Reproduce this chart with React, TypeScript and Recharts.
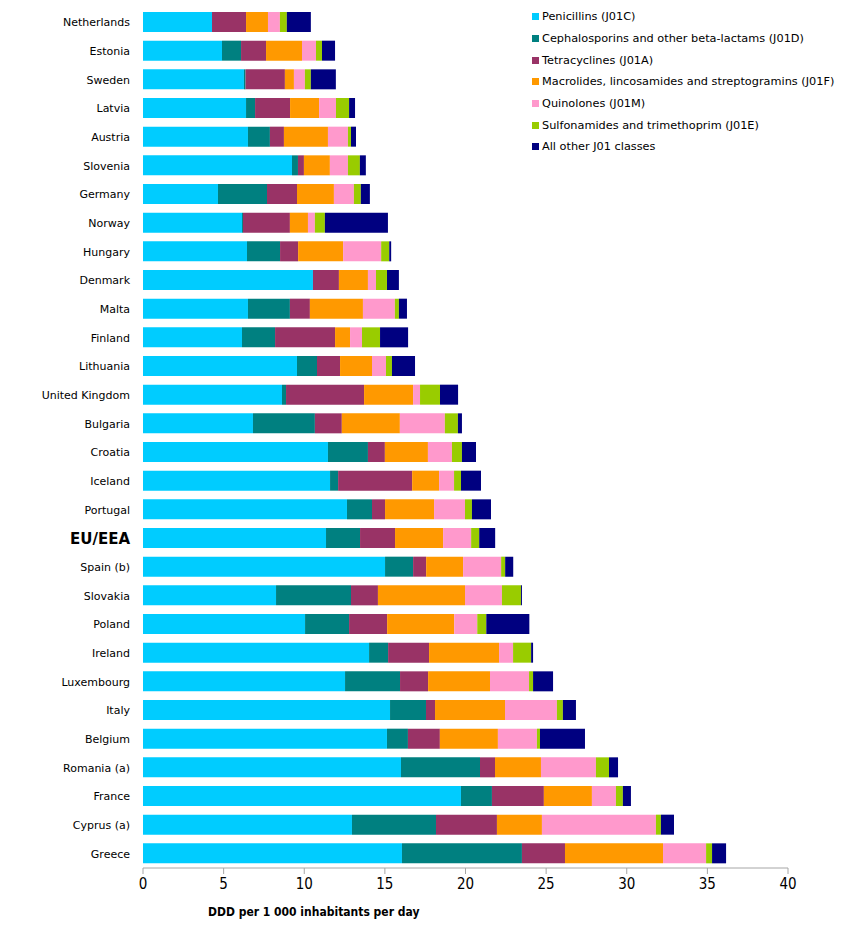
import { BarChart, Bar, XAxis, YAxis } from 'recharts';

const countries = [
  'Netherlands', 'Estonia', 'Sweden', 'Latvia', 'Austria', 'Slovenia', 'Germany', 'Norway',
  'Hungary', 'Denmark', 'Malta', 'Finland', 'Lithuania', 'United Kingdom', 'Bulgaria', 'Croatia',
  'Iceland', 'Portugal', 'EU/EEA', 'Spain (b)', 'Slovakia', 'Poland', 'Ireland', 'Luxembourg',
  'Italy', 'Belgium', 'Romania (a)', 'France', 'Cyprus (a)', 'Greece',
];

const penicillins = [
  4.28, 4.9, 6.26, 6.39, 6.51, 9.24, 4.65, 6.14, 6.45, 10.54, 6.51, 6.14, 9.55, 8.62, 6.82, 11.47,
  11.6, 12.65, 11.35, 15.01, 8.25, 10.05, 14.02, 12.53, 15.32, 15.13, 16.0, 19.72, 12.96, 16.06,
];
const cephalosporins = [
  0, 1.18, 0.1, 0.56, 1.36, 0.37, 3.04, 0.06, 2.05, 0, 2.6, 2.05, 1.24, 0.25, 3.84, 2.48,
  0.5, 1.55, 2.11, 1.74, 4.65, 2.73, 1.18, 3.41, 2.23, 1.3, 4.9, 1.92, 5.21, 7.44,
];
const tetracyclines = [
  2.11, 1.55, 2.44, 2.17, 0.87, 0.37, 1.86, 2.91, 1.12, 1.61, 1.24, 3.72, 1.43, 4.84, 1.67, 1.05,
  4.59, 0.81, 2.17, 0.81, 1.67, 2.36, 2.54, 1.74, 0.56, 1.98, 0.93, 3.22, 3.78, 2.67,
];
const macrolides = [
  1.36, 2.23, 0.56, 1.8, 2.73, 1.61, 2.29, 1.12, 2.79, 1.8, 3.29, 0.93, 1.98, 3.04, 3.6, 2.67,
  1.67, 3.04, 2.98, 2.29, 5.4, 4.16, 4.34, 3.84, 4.34, 3.6, 2.85, 2.98, 2.79, 6.08,
];
const quinolones = [
  0.74, 0.87, 0.68, 1.05, 1.24, 1.12, 1.24, 0.43, 2.36, 0.5, 1.98, 0.74, 0.87, 0.43, 2.79, 1.49,
  0.93, 1.92, 1.74, 2.36, 2.29, 1.43, 0.87, 2.42, 3.22, 2.42, 3.41, 1.49, 7.07, 2.67,
];
const sulfonamides = [
  0.43, 0.37, 0.37, 0.81, 0.19, 0.74, 0.43, 0.62, 0.5, 0.68, 0.25, 1.12, 0.37, 1.24, 0.81, 0.62,
  0.43, 0.43, 0.5, 0.25, 1.18, 0.56, 1.12, 0.25, 0.37, 0.19, 0.81, 0.43, 0.31, 0.37,
];
const otherJ01 = [
  1.49, 0.81, 1.55, 0.37, 0.31, 0.37, 0.56, 3.91, 0.12, 0.74, 0.5, 1.74, 1.43, 1.12, 0.25, 0.87,
  1.24, 1.18, 0.99, 0.5, 0.06, 2.67, 0.12, 1.24, 0.81, 2.79, 0.56, 0.5, 0.81, 0.87,
];

const xTicks = [0, 5, 10, 15, 20, 25, 30, 35, 40];

const SERIES = [
  { key: 'pen', name: 'Penicillins (J01C)', color: '#00CCFF', values: penicillins },
  { key: 'ceph', name: 'Cephalosporins and other beta-lactams (J01D)', color: '#008080', values: cephalosporins },
  { key: 'tet', name: 'Tetracyclines (J01A)', color: '#993366', values: tetracyclines },
  { key: 'mac', name: 'Macrolides, lincosamides and streptogramins (J01F)', color: '#FF9900', values: macrolides },
  { key: 'quin', name: 'Quinolones (J01M)', color: '#FF99CC', values: quinolones },
  { key: 'sulf', name: 'Sulfonamides and trimethoprim (J01E)', color: '#99CC00', values: sulfonamides },
  { key: 'oth', name: 'All other J01 classes', color: '#000080', values: otherJ01 },
];

const data = countries.map((name, i) => {
  const row: Record<string, any> = { name };
  SERIES.forEach((s) => {
    row[s.key] = s.values[i];
  });
  return row;
});

const FONT = '"DejaVu Sans", Verdana, sans-serif';
const CONDENSED = '"DejaVu Sans Condensed", "DejaVu Sans", sans-serif';

function CountryTick({ x, y, payload }: any) {
  const bold = payload.value === 'EU/EEA';
  return (
    <text
      x={x}
      y={y}
      dy="0.35em"
      textAnchor="end"
      fontFamily={FONT}
      fontSize={bold ? 15 : 11}
      fontWeight={bold ? 700 : 400}
      fill="#000"
    >
      {payload.value}
    </text>
  );
}

function LegendBox() {
  return (
    <div style={{ position: 'absolute', left: 532, top: 6, fontFamily: FONT, fontSize: 11.3, color: '#000' }}>
      {SERIES.map((s) => (
        <div key={s.key} style={{ display: 'flex', alignItems: 'center', height: 21.7, whiteSpace: 'nowrap' }}>
          <span style={{ width: 7, height: 7, background: s.color, marginRight: 3 }} />
          <span>{s.name}</span>
        </div>
      ))}
    </div>
  );
}

export default function App() {
  return (
    <div style={{ position: 'absolute', left: 0, top: 0, width: 868, height: 932, background: '#fff' }}>
      <BarChart
        width={868}
        height={932}
        data={data}
        layout="vertical"
        margin={{ top: 8, right: 80, left: 0, bottom: 34 }}
      >
        <XAxis
          type="number"
          domain={[0, 40]}
          ticks={xTicks}
          interval={0}
          height={30}
          tickMargin={4}
          axisLine={{ stroke: '#a6a6a6' }}
          tickLine={{ stroke: '#a6a6a6' }}
          tick={{ fontSize: 15, fill: '#000', fontFamily: CONDENSED }}
        />
        <YAxis
          type="category"
          dataKey="name"
          width={143}
          axisLine={false}
          tickLine={false}
          interval={0}
          tickMargin={7}
          tick={<CountryTick />}
        />
        {SERIES.map((s) => (
          <Bar
            key={s.key}
            dataKey={s.key}
            name={s.name}
            stackId="a"
            fill={s.color}
            barSize={20}
            isAnimationActive={false}
          />
        ))}
      </BarChart>
      <LegendBox />
      <div
        style={{
          position: 'absolute',
          left: 208,
          top: 905,
          fontFamily: CONDENSED,
          fontWeight: 700,
          fontSize: 12,
          color: '#000',
          whiteSpace: 'nowrap',
        }}
      >
        DDD per 1 000 inhabitants per day
      </div>
    </div>
  );
}
